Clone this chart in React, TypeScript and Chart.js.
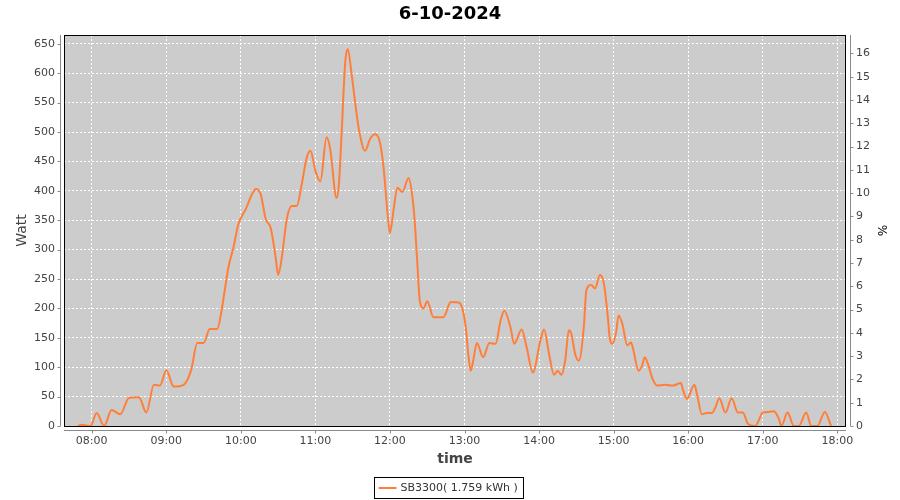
import React, { useEffect, useRef } from "react";
import { Chart, registerables } from "chart.js";

Chart.register(...registerables);

const chartTitle = "6-10-2024";
const seriesLabel = "SB3300( 1.759 kWh )";
const yLeftTitle = "Watt";
const yRightTitle = "%";
const xTitle = "time";

const times: string[] = [
  "07:49","07:52","07:59","08:04","08:10","08:16","08:23","08:30","08:38","08:44",
  "08:50","08:55","09:00","09:06","09:14","09:20","09:25","09:30","09:35","09:41",
  "09:44","09:47","09:50","09:54","09:58","10:04","10:09","10:12","10:16","10:20",
  "10:24","10:28","10:30","10:33","10:37","10:41","10:45","10:49","10:53","10:56",
  "11:00","11:04","11:09","11:12","11:17","11:19","11:21","11:24","11:26","11:29",
  "11:32","11:35","11:40","11:44","11:48","11:52","11:55","11:58","12:00","12:03",
  "12:06","12:10","12:15","12:18","12:20","12:22","12:24","12:27","12:30","12:35",
  "12:43","12:49","12:55","12:57","13:01","13:03","13:05","13:07","13:10","13:15",
  "13:20","13:25","13:29","13:32","13:37","13:40","13:46","13:50","13:55","14:01",
  "14:04","14:08","14:12","14:15","14:18","14:21","14:24","14:26","14:29","14:32",
  "14:36","14:38","14:42","14:45","14:49","14:52","14:55","14:57","14:59","15:02",
  "15:04","15:07","15:11","15:14","15:16","15:20","15:23","15:25","15:28","15:31",
  "15:35","15:41","15:48","15:54","15:56","15:59","16:05","16:07","16:11","16:15",
  "16:19","16:22","16:25","16:30","16:35","16:40","16:44","16:48","16:54","16:56",
  "17:00","17:05","17:09","17:13","17:15","17:20","17:25","17:29","17:35","17:39",
  "17:44","17:50","17:55"
];

const watts: number[] = [
  0, 2, 0, 22, 0, 27, 20, 48, 49, 23,
  70, 69, 95, 67, 70, 95, 141, 141, 165, 165,
  190, 230, 270, 303, 343, 369, 394, 403, 394, 352,
  337, 287, 257, 287, 352, 374, 374, 411, 456, 468,
  434, 416, 491, 470, 388, 414, 493, 618, 641, 601,
  550, 505, 468, 488, 496, 482, 437, 363, 328, 369,
  405, 398, 422, 391, 346, 278, 213, 200, 212, 185,
  185, 211, 210, 207, 168, 123, 94, 111, 141, 117,
  141, 140, 179, 196, 168, 140, 164, 134, 91, 145,
  164, 123, 87, 94, 87, 111, 163, 157, 123, 111,
  168, 230, 240, 234, 257, 244, 193, 148, 140, 159,
  188, 174, 137, 142, 128, 94, 103, 117, 103, 82,
  69, 70, 69, 73, 60, 46, 70, 55, 20, 22,
  22, 32, 47, 23, 47, 23, 23, 4, 0, 6,
  23, 24, 25, 12, 0, 23, 0, 0, 23, 0,
  0, 24, 0
];

const xMinTime = "07:37.7";
const xMaxTime = "18:07";
const yLeftMax = 665;
const yRightMax = 16.79;
const yLeftStep = 50;
const yRightStep = 1;
const xStepMinutes = 60;

const LINE_COLOR = "#ff7f3a";
const FONT = "'DejaVu Sans', sans-serif";

function toMinutes(t: string): number {
  const [h, m] = t.split(":");
  return parseInt(h, 10) * 60 + parseFloat(m);
}
function fmt(v: number): string {
  const h = Math.floor(v / 60);
  const m = Math.round(v - h * 60);
  return String(h).padStart(2, "0") + ":" + String(m).padStart(2, "0");
}

const decorPlugin = {
  id: "decor",
  beforeDraw(chart: any) {
    const { ctx, chartArea: a } = chart;
    ctx.save();
    ctx.fillStyle = "#cccccc";
    ctx.fillRect(a.left, a.top, a.right - a.left, a.bottom - a.top);
    ctx.restore();
  },
  afterDraw(chart: any) {
    const { ctx, chartArea: a, scales } = chart;
    ctx.save();
    ctx.strokeStyle = "#000";
    ctx.lineWidth = 1;
    ctx.strokeRect(Math.round(a.left) + 0.5, Math.round(a.top) + 0.5, Math.round(a.right - a.left) - 1, Math.round(a.bottom - a.top));
    ctx.strokeStyle = "#8a8a8a";
    ctx.beginPath();
    const lx = Math.round(a.left) - 3.5;
    ctx.moveTo(lx, a.top); ctx.lineTo(lx, a.bottom);
    scales.y.ticks.forEach((t: any) => {
      const py = Math.round(scales.y.getPixelForValue(t.value)) + 0.5;
      ctx.moveTo(lx, py); ctx.lineTo(lx - 3, py);
    });
    const rx = Math.round(a.right) + 4.5;
    ctx.moveTo(rx, a.top); ctx.lineTo(rx, a.bottom);
    scales.y1.ticks.forEach((t: any) => {
      const py = Math.round(scales.y1.getPixelForValue(t.value)) + 0.5;
      ctx.moveTo(rx, py); ctx.lineTo(rx + 3, py);
    });
    const by = Math.round(a.bottom) + 4.5;
    ctx.moveTo(a.left, by); ctx.lineTo(a.right, by);
    scales.x.ticks.forEach((t: any) => {
      const px = Math.round(scales.x.getPixelForValue(t.value)) + 0.5;
      ctx.moveTo(px, by); ctx.lineTo(px, by + 3);
    });
    ctx.stroke();

    const label = chart.data.datasets[0].label;
    const color = chart.data.datasets[0].borderColor;
    ctx.font = "11px " + FONT;
    const tw = ctx.measureText(label).width;
    const bw = 5 + 18 + 3 + tw + 6;
    const bh = 21;
    const cx = 449;
    const bx = Math.round(cx - bw / 2) + 0.5;
    const byy = 477.5;
    ctx.strokeStyle = "#000";
    ctx.strokeRect(bx, byy, Math.round(bw), bh);
    ctx.strokeStyle = color;
    ctx.lineWidth = 2;
    ctx.beginPath();
    ctx.moveTo(bx + 4, byy + bh / 2);
    ctx.lineTo(bx + 22, byy + bh / 2);
    ctx.stroke();
    ctx.fillStyle = "#333";
    ctx.textBaseline = "middle";
    ctx.textAlign = "left";
    ctx.fillText(label, bx + 26, byy + bh / 2 + 0.5);
    ctx.restore();
  },
};

export default function App() {
  const ref = useRef<HTMLCanvasElement | null>(null);
  useEffect(() => {
    if (!ref.current) return;
    const data = times.map((t, i) => ({ x: toMinutes(t), y: watts[i] }));
    const tickFont = { family: FONT, size: 11 };
    const chart = new Chart(ref.current, {
      type: "line",
      data: {
        datasets: [
          {
            label: seriesLabel,
            data,
            borderColor: LINE_COLOR,
            borderWidth: 2,
            pointRadius: 0,
            cubicInterpolationMode: "monotone",
            fill: false,
            yAxisID: "y",
          },
        ],
      },
      options: {
        animation: false,
        responsive: false,
        maintainAspectRatio: false,
        layout: { padding: { top: 0, left: 0, right: 0, bottom: 30 } },
        plugins: {
          legend: { display: false },
          tooltip: { enabled: false },
          title: {
            display: true,
            text: chartTitle,
            color: "#000",
            font: { family: FONT, size: 18, weight: "bold" },
            padding: { top: 4, bottom: 9.4 },
          },
        },
        scales: {
          x: {
            type: "linear",
            position: "bottom",
            min: toMinutes(xMinTime),
            max: toMinutes(xMaxTime),
            afterFit: (s: any) => { s.height = 44; },
            ticks: {
              stepSize: xStepMinutes,
              includeBounds: false,
              maxTicksLimit: 30,
              autoSkip: false,
              maxRotation: 0,
              padding: 9,
              color: "#444",
              font: tickFont,
              callback: (v: any) => fmt(Number(v)),
            },
            grid: { color: "#ffffff", lineWidth: 1, drawTicks: false },
            border: { display: false, dash: [2, 2] },
            title: {
              display: true,
              text: xTitle,
              color: "#444",
              font: { family: FONT, size: 14, weight: "bold" },
              padding: { top: 0, bottom: 2.6 },
            },
          },
          y: {
            type: "linear",
            position: "left",
            min: 0,
            max: yLeftMax,
            afterFit: (s: any) => { s.width = 64; },
            ticks: {
              stepSize: yLeftStep,
              includeBounds: false,
              maxTicksLimit: 40,
              autoSkip: false,
              padding: 9,
              color: "#444",
              font: tickFont,
            },
            grid: { color: "#ffffff", lineWidth: 1, drawTicks: false },
            border: { display: false, dash: [2, 2] },
            title: {
              display: true,
              text: yLeftTitle,
              color: "#444",
              font: { family: FONT, size: 14 },
              padding: { top: 13.6, bottom: 0 },
            },
          },
          y1: {
            type: "linear",
            position: "right",
            min: 0,
            max: yRightMax,
            afterFit: (s: any) => { s.width = 54; },
            ticks: {
              stepSize: yRightStep,
              includeBounds: false,
              maxTicksLimit: 40,
              autoSkip: false,
              padding: 10,
              color: "#444",
              font: tickFont,
            },
            grid: { display: false, drawTicks: false },
            border: { display: false },
            title: {
              display: true,
              text: yRightTitle,
              color: "#000",
              font: { family: FONT, size: 12 },
              padding: { top: 11.8, bottom: 0 },
            },
          },
        },
      },
      plugins: [decorPlugin],
    } as any);
    return () => chart.destroy();
  }, []);

  return (
    <div style={{ position: "fixed", left: 0, top: 0, width: 900, height: 500, background: "#fff" }}>
      <canvas ref={ref} width={900} height={500} style={{ width: 900, height: 500, display: "block" }} />
    </div>
  );
}
